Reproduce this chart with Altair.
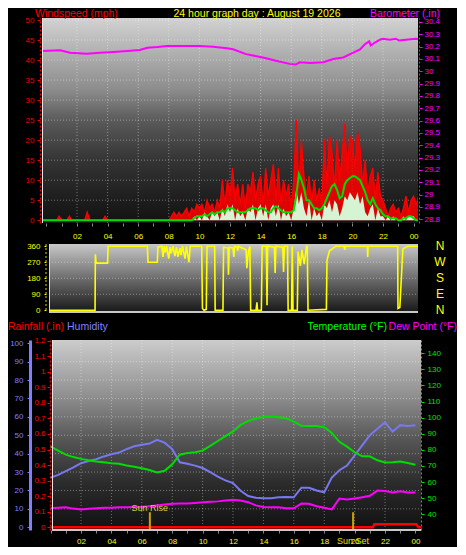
import altair as alt
import pandas as pd

FONT = "Liberation Sans"

# ---------------- texts ----------------
title_text = "24 hour graph day : August 19 2026"
wind_title = "Windspeed (mph)"
baro_title = "Barometer (.in)"
rain_title = "Rainfall (.in)"
hum_title = "Humidity"
temp_title = "Temperature (°F)"
dew_title = "Dew Point (°F)"

# ---------------- wind: 10-minute samples, first one at 23:40 of the day before ----------------
wind_start_h = -1 / 3
wind_step_h = 1 / 6
gust_mph = [
    0, 0,
    0, 0, 0, 0, 0, 1,
    0, 0, 0, 1, 0, 0,
    0, 0, 0, 0, 2, 0,
    0, 0, 0, 0, 0, 1,
    0, 0, 0, 0, 0, 0,
    0, 0, 0, 0, 0, 0,
    0, 0, 0, 0, 0, 0,
    0, 0, 0, 0, 0, 0,
    0, 1, 2, 1, 2, 1,
    2, 3, 1, 3, 2, 4,
    3, 4, 2, 5, 3, 4,
    2, 5, 3, 10, 4, 10,
    6, 13, 5, 9, 4, 9,
    3, 9, 7, 12, 5, 9,
    11, 4, 13, 6, 10, 14,
    5, 13, 4, 10, 6, 9,
    3, 10, 25, 8, 20, 11,
    6, 11, 4, 10, 5, 8,
    4, 20, 9, 21, 17, 8,
    20, 10, 17, 24, 12, 21,
    20, 13, 22, 18, 9, 15,
    7, 11, 13, 5, 12, 6,
    5, 3, 1, 3, 4, 2,
    3, 1, 3, 6, 2, 5,
    6, 4, 6,
]
avg_mph = [
    0, 0,
    0, 0, 0, 0, 0, 0,
    0, 0, 0, 0, 0, 0,
    0, 0, 0, 0, 0, 0,
    0, 0, 0, 0, 0, 0,
    0, 0, 0, 0, 0, 0,
    0, 0, 0, 0, 0, 0,
    0, 0, 0, 0, 0, 0,
    0, 0, 0, 0, 0, 0,
    0, 0, 0, 0, 0, 0,
    0, 0, 0, 0, 0.5, 1,
    1, 1, 1.5, 1, 1.5, 2,
    1.5, 2, 2, 2.5, 2, 3,
    3, 3, 2.5, 2, 2, 2,
    2, 2.5, 3, 3, 3, 2.5,
    3, 3, 2.5, 2, 2, 3,
    3.5, 3, 2.5, 2, 2, 2,
    2, 2.5, 6, 11.5, 10, 8,
    5, 5, 4, 3, 3, 2.5,
    3, 4, 5.5, 7, 8.5, 9,
    7.5, 5.5, 6, 9, 10, 10.5,
    11, 11, 10.5, 10, 8.5, 7,
    5, 4, 5.5, 4, 3, 2.5,
    1.5, 1, 1, 0.5, 0.5, 0.5,
    0, 0, 0.5, 0.5, 1, 1,
    0.5, 0, 0,
]
speed_mph = [
    0, 0,
    0, 0, 0, 0, 0, 0,
    0, 0, 0, 0, 0, 0,
    0, 0, 0, 0, 0, 0,
    0, 0, 0, 0, 0, 0,
    0, 0, 0, 0, 0, 0,
    0, 0, 0, 0, 0, 0,
    0, 0, 0, 0, 0, 0,
    0, 0, 0, 0, 0, 0,
    0, 0, 0, 0, 0, 0,
    0, 0, 0, 0, 1, 0,
    1, 0, 2, 1, 0, 2,
    1, 2, 0, 3, 1, 4,
    2, 4, 0, 3, 1, 2,
    0, 3, 2, 4, 0, 3,
    4, 1, 4, 0, 3, 4,
    1, 4, 0, 3, 1, 2,
    0, 3, 8, 4, 7, 3,
    1, 5, 0, 3, 1, 2,
    0, 4, 3, 5, 2, 5,
    4, 1, 3, 6, 5, 7,
    6, 5, 7, 4, 6, 2,
    1, 3, 4, 0, 3, 1,
    1, 0, 1, 0, 1, 0,
    0, 0, 1, 0, 1, 1,
    1, 0, 0,
]

# ---------------- barometer ----------------
baro_t = [-0.29, 0.9, 1.55, 2.65, 3.5, 4.35, 5.3, 6.1, 6.6, 7.25, 7.9, 8.9, 10.0, 10.9,
          11.8, 12.2, 13.05, 14.15, 15.0, 15.9, 16.3, 16.55, 17.25, 18.1, 18.75, 19.4,
          19.85, 20.5, 20.8, 21.1, 21.2, 21.5, 21.8, 22.0, 22.45, 22.85, 23.05, 23.5,
          24.15, 24.29]
baro_in = [30.165, 30.17, 30.151, 30.143, 30.151, 30.157, 30.165, 30.173, 30.191, 30.196,
           30.204, 30.204, 30.204, 30.198, 30.186, 30.178, 30.139, 30.112, 30.086, 30.06,
           30.055, 30.073, 30.068, 30.073, 30.1, 30.112, 30.139, 30.178, 30.217, 30.243,
           30.209, 30.235, 30.256, 30.264, 30.256, 30.264, 30.249, 30.256, 30.264, 30.262]

# ---------------- wind direction ----------------
dir_t = [0.17, 3.18, 3.2, 3.25, 4.0, 4.03, 6.6, 6.64, 7.25, 7.29, 7.55, 7.62, 7.7, 7.78,
         7.85, 8.0, 8.08, 8.15, 8.27, 8.4, 8.5, 8.6, 8.73, 8.8, 8.9, 9.06, 9.15, 9.32,
         9.4, 10.15, 10.2, 10.3, 10.45, 10.5, 11.0, 11.03, 11.54, 11.58, 11.87, 11.9,
         11.95, 12.2, 12.25, 12.3, 12.46, 12.5, 12.55, 13.05, 13.1, 13.2, 13.3, 13.35,
         13.7, 13.76, 13.8, 14.05, 14.1, 14.38, 14.42, 14.46, 14.9, 14.95, 15.0, 15.45,
         15.5, 15.55, 15.76, 15.8, 16.02, 16.07, 16.12, 16.4, 16.45, 16.6, 16.7, 16.85,
         17.0, 17.05, 17.1, 18.3, 18.34, 18.5, 18.6, 18.9, 19.45, 19.5, 19.55, 20.98,
         21.0, 21.03, 22.96, 22.98, 23.1, 23.3, 23.6, 24.28]
dir_deg = [0, 0, 315, 265, 265, 360, 360, 270, 270, 355, 360, 300, 360, 325,
           360, 290, 355, 320, 360, 305, 355, 300, 350, 310, 360, 290, 360, 270,
           360, 360, 10, 0, 5, 360, 360, 0, 0, 355, 350, 200,
           355, 350, 300, 360, 355, 335, 360, 340, 236, 330, 360, 0,
           0, 45, 0, 0, 360, 360, 28, 360, 355, 210, 360, 355,
           215, 360, 360, 0, 0, 360, 0, 0, 330, 250, 340, 260,
           360, 360, 0, 5, 280, 335, 340, 360, 360, 340, 360, 360,
           300, 360, 360, 10, 15, 345, 360, 360]
compass_deg = [0, 90, 180, 270, 360]
compass_lbl = ["N", "E", "S", "W", "N"]

# ---------------- lower panel: half-hour samples ----------------
day_step_h = 0.5
temp_f = [82, 79.5, 77, 75.5, 74.4, 73.5, 72.8, 72.3, 71.7, 71.3, 70.3, 69.5, 68.6, 67.5,
          66, 67, 71, 77, 78, 78.5, 79.5, 82.5, 85.5, 88.5, 91.5, 95.5, 98, 99.5, 100.5,
          100.7, 100.2, 99.7, 97.5, 95, 94.8, 94.8, 94, 90.5, 85, 82, 78.5, 76, 76, 73.5,
          72.2, 72.3, 72.8, 71.8, 70.7]
hum_pct = [27, 28.5, 30.5, 32.5, 34.8, 36, 37, 38.5, 39.7, 40.6, 42.5, 44, 44.8, 45.5,
           47.5, 46, 42.5, 35.3, 34.5, 33.5, 32.2, 29.9, 27.5, 25.5, 24, 19.8, 17, 16,
           15.8, 15.8, 16.3, 16.5, 16.3, 21.5, 21.5, 20, 19, 27, 31, 33.5, 39, 44.5, 50,
           53.5, 57, 52, 55.5, 55, 55.4]
dew_f = [43.7, 44, 44.3, 43.5, 43, 43.4, 43.7, 44, 44, 44.3, 44.3, 44.5, 44.5, 45, 45.5,
         46, 46.5, 46.7, 46.7, 47, 47.4, 47.7, 48, 48.6, 49, 48.6, 47.5, 45.5, 44.5, 44.3,
         44.3, 43.8, 43.7, 46.7, 46.5, 45, 44, 43, 49.8, 49.2, 49.8, 50.5, 51.5, 54.7,
         54.5, 53.5, 54.3, 53.5, 53.5]
rain_t = [0, 21.2, 21.3, 24.05, 24.2, 24.37]
rain_in = [0, 0, 0.02, 0.02, 0, 0]
sun_lbl = ["Sun Rise", "Sun Set"]
sun_t = [6.53, 19.9]

# ---------------- ticks ----------------
hour_ticks = list(range(0, 25))
grid_hours = [2, 4, 6, 8, 10, 12, 14, 16, 18, 20, 22]
wind_ticks = [0, 5, 10, 15, 20, 25, 30, 35, 40, 45, 50]
wind_grid = [5, 10, 15, 20, 25, 30, 35, 40, 45, 50]
baro_ticks = [28.8, 28.9, 29.0, 29.1, 29.2, 29.3, 29.4, 29.5, 29.6, 29.7, 29.8, 29.9,
              30.0, 30.1, 30.2, 30.3, 30.4]
dir_ticks = [0, 90, 180, 270, 360]
dir_grid = [90, 180, 270]
hum_ticks = [0, 10, 20, 30, 40, 50, 60, 70, 80, 90, 100]
hum_grid = [10, 20, 30, 40, 50, 60, 70, 80, 90]
rain_ticks = [0, 0.1, 0.2, 0.3, 0.4, 0.5, 0.6, 0.7, 0.8, 0.9, 1.0, 1.1, 1.2]
temp_ticks = [40, 50, 60, 70, 80, 90, 100, 110, 120, 130, 140]

# ---------------- tables ----------------
one = pd.DataFrame({"k": [0]})
wind_df = pd.DataFrame({
    "t": [wind_start_h + i * wind_step_h for i in range(len(gust_mph))],
    "gust": gust_mph, "avg": avg_mph, "speed": speed_mph})
baro_df = pd.DataFrame({"t": baro_t, "baro": baro_in})
dir_df = pd.DataFrame({"t": dir_t, "deg": dir_deg})
compass_df = pd.DataFrame({"deg": compass_deg, "lbl": compass_lbl})
day_df = pd.DataFrame({"t": [i * day_step_h for i in range(len(temp_f))],
                       "temp": temp_f, "hum": hum_pct, "dew": dew_f})
rain_df = pd.DataFrame({"t": rain_t, "rain": rain_in})
sunrise_df = pd.DataFrame({"t": [sun_t[0]], "lbl": [sun_lbl[0]]})
sunset_df = pd.DataFrame({"t": [sun_t[1]], "lbl": [sun_lbl[1]]})
sun_df = pd.DataFrame({"t": sun_t})

# ---------------- layout ----------------
TW, TH = 376, 205
MW, MH = 376, 75
MBG = 68
BW, BH = 379, 190
BX0 = 10

def sc(lo, hi):
    return alt.Scale(domain=[lo, hi], nice=False, zero=False)

x_top_sc = sc(-0.2876, 24.288)
x_bot_sc = sc(-0.5658, 24.368)
wind_sc = sc(-0.69, 50.5)
baro_sc = sc(28.770, 30.432)
dir_sc = sc(-49.2, 372.7)
hum_sc = sc(-1.49, 101.77)
rain_sc = sc(-0.0177, 1.2045)
temp_sc = sc(30.22, 148.23)

HOUR_EXPR = ("datum.value > 0 && datum.value % 2 == 0 ? "
             "(datum.value % 24 < 10 ? '0' + (datum.value % 24) : '' + datum.value) : ''")

def hour_axis(pad):
    return alt.Axis(values=hour_ticks, labelExpr=HOUR_EXPR, labelColor="#ffff00",
                    labelFont=FONT, labelFontSize=8, tickColor="#8a8a8a", tickSize=3,
                    labelPadding=pad, domain=False, grid=False, title=None,
                    labelFlush=False, labelOverlap=False)

def y_axis(orient, values, color, offset, pad, dash, width=1, fmt=""):
    kw = dict(orient=orient, values=values, labelColor=color, labelFont=FONT,
              labelFontSize=8, tickColor=color, tickSize=3, labelPadding=pad,
              domain=True, domainColor=color, domainWidth=width, offset=offset,
              grid=False, title=None, labelOverlap=False, labelFlush=False)
    if dash:
        kw["domainDash"] = dash
    if fmt:
        kw["format"] = fmt
    return alt.Axis(**kw)

def vgrad(stops):
    return alt.Gradient(gradient="linear", x1=0, x2=0, y1=0, y2=1,
                        stops=[alt.GradientStop(offset=o, color=c) for o, c in stops])

def bg(x0, x1, h, stops):
    return alt.Chart(one).mark_rect(fill=vgrad(stops), strokeWidth=0).encode(
        x=alt.value(x0), x2=alt.value(x1), y=alt.value(0), y2=alt.value(h))

def label(txt, x, y, color, size=10.5, align="left"):
    return alt.Chart(one).mark_text(text=txt, color=color, font=FONT, fontSize=size,
                                    align=align, baseline="middle").encode(
        x=alt.value(x), y=alt.value(y))

def vline(x, y0, y1, color, width=1, dash=False):
    kw = dict(color=color, strokeWidth=width)
    if dash:
        kw["strokeDash"] = [2, 2]
    return alt.Chart(one).mark_rule(**kw).encode(
        x=alt.value(x), y=alt.value(y0), y2=alt.value(y1))

def hline(x0, x1, y, color, width=1):
    return alt.Chart(one).mark_rule(color=color, strokeWidth=width).encode(
        x=alt.value(x0), x2=alt.value(x1), y=alt.value(y))

GRID = dict(color="#ffffff", opacity=0.38, strokeDash=[1, 2], strokeWidth=1)

# ---------------- top panel ----------------
top_x = alt.X("t:Q", scale=x_top_sc, axis=hour_axis(6))
wind_axis = y_axis("left", wind_ticks, "#ee0000", 2, 3, [2, 2])
baro_axis = y_axis("right", baro_ticks, "#ff00ff", 1, 2, [2, 2], fmt=".1~f")

top = alt.layer(
    bg(0, TW, TH, [(0, "#d2d2d2"), (0.35, "#8c8c8c"), (0.5, "#5a5a5a"),
                   (0.7, "#333333"), (0.9, "#1c1c1c"), (1, "#121212")]),
    alt.Chart(pd.DataFrame({"t": grid_hours})).mark_rule(**GRID).encode(
        x=top_x, y=alt.value(0), y2=alt.value(TH)),
    alt.Chart(pd.DataFrame({"v": wind_grid})).mark_rule(**GRID).encode(
        y=alt.Y("v:Q", scale=wind_sc, axis=None), x=alt.value(0), x2=alt.value(TW)),
    alt.Chart(baro_df).mark_line(color="#ff00ff", strokeWidth=2, clip=True).encode(
        x=top_x, y=alt.Y("baro:Q", scale=baro_sc, axis=baro_axis)),
    alt.Chart(wind_df).mark_area(color="#ff0000", opacity=0.85, clip=True,
                                 line={"color": "#ff0000", "strokeWidth": 1.3}).encode(
        x=top_x, y=alt.Y("gust:Q", scale=wind_sc, axis=wind_axis)),
    alt.Chart(wind_df).mark_area(color="#d4f4d4", clip=True).encode(
        x=top_x, y=alt.Y("speed:Q", scale=wind_sc, axis=None), y2=alt.value(TH)),
    alt.Chart(wind_df).mark_line(color="#00dd00", strokeWidth=2, clip=True).encode(
        x=top_x, y=alt.Y("avg:Q", scale=wind_sc, axis=None)),
    vline(0.5, 0, TH, "#e8e8e8"),
    label(wind_title, -7, -4.5, "#ff0000"),
    label(title_text, 215, -4.5, "#ffff00", align="center"),
    label(baro_title, 398, -4.5, "#ff00ff", align="right"),
).resolve_scale(y="independent").properties(width=TW, height=TH)

# ---------------- middle panel ----------------
mid_x = alt.X("t:Q", scale=x_top_sc, axis=None)
dir_axis = alt.Axis(orient="left", values=dir_ticks, labelColor="#ffff00", labelFont=FONT,
                    labelFontSize=8, tickColor="#ffff00", tickSize=2, labelPadding=4,
                    domain=False, grid=False, offset=-4, title=None,
                    labelOverlap=False, labelFlush=False)
mid_y = alt.Y("deg:Q", scale=dir_sc, axis=dir_axis)

mid = alt.layer(
    bg(7, MW, MBG, [(0, "#c8c8c8"), (0.5, "#6e6e6e"), (1, "#181818")]),
    alt.Chart(pd.DataFrame({"deg": dir_grid})).mark_rule(**GRID).encode(
        y=mid_y, x=alt.value(7), x2=alt.value(MW)),
    alt.Chart(dir_df).mark_line(color="#ffff00", strokeWidth=1.6, clip=True).encode(
        x=mid_x, y=mid_y),
    alt.Chart(compass_df).mark_text(color="#ffff00", font=FONT, fontSize=12,
                                    align="center", baseline="middle").encode(
        text="lbl:N", y=mid_y, x=alt.value(398)),
    vline(4, 0, MBG, "#d8d800", dash=True),
    vline(7.5, 0, MBG, "#dcdcdc"),
    hline(7, MW, MBG, "#c8c8c8", 2),
).properties(width=MW, height=MH)

# ---------------- bottom panel ----------------
bot_x = alt.X("t:Q", scale=x_bot_sc, axis=hour_axis(4))
hum_axis = y_axis("left", hum_ticks, "#8080ff", 12, 4, None, width=3)
rain_axis = y_axis("left", rain_ticks, "#ff0000", -8, 2, [2, 2], fmt=".1~f")
temp_axis = y_axis("right", temp_ticks, "#00e000", 0, 3, [2, 2])

bot = alt.layer(
    bg(BX0, BW, BH, [(0, "#cccccc"), (0.3, "#8e8e8e"), (0.53, "#555555"),
                     (0.75, "#2c2c2c"), (1, "#111111")]),
    alt.Chart(pd.DataFrame({"t": grid_hours})).mark_rule(**GRID).encode(
        x=bot_x, y=alt.value(0), y2=alt.value(BH)),
    alt.Chart(pd.DataFrame({"v": hum_grid})).mark_rule(**GRID).encode(
        y=alt.Y("v:Q", scale=hum_sc, axis=None), x=alt.value(BX0), x2=alt.value(BW)),
    alt.Chart(day_df).mark_line(color="#7878f0", strokeWidth=2, clip=True).encode(
        x=bot_x, y=alt.Y("hum:Q", scale=hum_sc, axis=hum_axis)),
    alt.Chart(day_df).mark_line(color="#00dd00", strokeWidth=2, clip=True).encode(
        x=bot_x, y=alt.Y("temp:Q", scale=temp_sc, axis=temp_axis)),
    alt.Chart(day_df).mark_line(color="#ff00ff", strokeWidth=2, clip=True).encode(
        x=bot_x, y=alt.Y("dew:Q", scale=temp_sc, axis=None)),
    alt.Chart(rain_df).mark_line(color="#ff0000", strokeWidth=2.5, clip=True).encode(
        x=bot_x, y=alt.Y("rain:Q", scale=rain_sc, axis=rain_axis)),
    alt.Chart(sun_df).mark_rule(color="#c8a400", strokeWidth=2).encode(
        x=bot_x, y=alt.value(172.25), y2=alt.value(BH)),
    alt.Chart(sunrise_df).mark_text(color="#d0d040", font=FONT, fontSize=9,
                                    baseline="middle").encode(
        x=bot_x, text="lbl:N", y=alt.value(168.25)),
    alt.Chart(sunset_df).mark_text(color="#e0e000", font=FONT, fontSize=9,
                                   baseline="middle").encode(
        x=bot_x, text="lbl:N", y=alt.value(201.25)),
    vline(BX0 + 0.5, 0, BH, "#e8e8e8"),
    hline(BX0, BW, BH, "#c8c8c8", 2),
    label(rain_title, -34, -13, "#ff0000"),
    label(hum_title, 25, -13, "#8080ff"),
    label(temp_title, 345, -13, "#00ff00", align="right"),
    label(dew_title, 415, -13, "#ff00ff", align="right"),
).resolve_scale(y="independent").properties(width=BW, height=BH)

chart = alt.vconcat(top, mid, bot, spacing=21, bounds="flush").properties(
    background="#000000", padding=0).configure_view(strokeWidth=0)

chart.save("out.html", embed_options={"renderer": "svg", "actions": False})
